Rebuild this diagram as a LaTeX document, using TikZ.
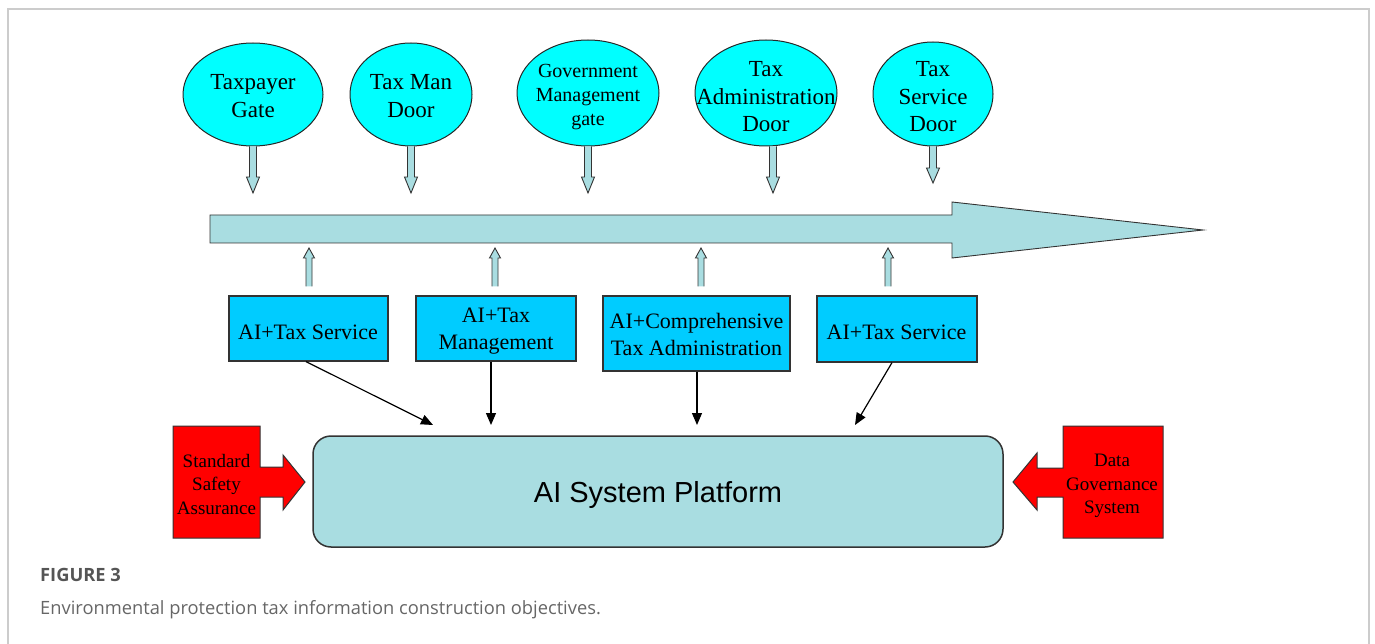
\documentclass[tikz,border=0pt]{standalone}
\usepackage{fontspec}
\setmainfont{Liberation Serif}
\setsansfont{Liberation Sans}
\newfontfamily\capfont{Open Sans}
\usetikzlibrary{shapes.geometric,arrows.meta,calc}

\definecolor{gatecyan}{HTML}{00FFFF}
\definecolor{boxblue}{HTML}{00CCFF}
\definecolor{paleblue}{HTML}{A9DDE1}
\definecolor{framegray}{HTML}{CCCCCC}
\definecolor{capdark}{HTML}{555555}
\definecolor{captext}{HTML}{666666}

% vertical hollow block arrow: #1 start, #2 tip, #3 shaft half width,
% #4 head half width, #5 signed offset of the head base from the tip
\newcommand\vblock[5]{%
  \fill[paleblue] let \p1=(#1), \p2=(#2) in
    (\x1-#3,\y1) -- (\x1-#3,{\y2+#5}) -- (\x1-#4,{\y2+#5}) -- (\x1,\y2)
    -- (\x1+#4,{\y2+#5}) -- (\x1+#3,{\y2+#5}) -- (\x1+#3,\y1) -- cycle;
  \draw[blkline] let \p1=(#1), \p2=(#2) in
    (\x1-#3,\y1) -- (\x1-#3,{\y2+#5}) -- (\x1-#4,{\y2+#5}) -- (\x1,\y2)
    -- (\x1+#4,{\y2+#5}) -- (\x1+#3,{\y2+#5}) -- (\x1+#3,\y1);}

\begin{document}
\begin{tikzpicture}[x=1pt,y=-1pt,
  gate/.style={ellipse, draw=black!85, line width=1pt, fill=gatecyan,
    inner sep=0pt},
  gatetext/.style={inner sep=0pt, align=center, font=\fontsize{23}{27.5}\selectfont},
  aibox/.style={rectangle, draw=black!80, line width=1.2pt, fill=boxblue,
    inner sep=0pt},
  boxtext/.style={inner sep=0pt, align=center, font=\fontsize{22}{27.5}\selectfont},
  blkline/.style={draw=black!80, line width=0.9pt, line join=miter},
  link/.style={draw=black, line width=1.2pt,
    -{Triangle[length=12pt,width=10pt]}},
  redshape/.style={draw=black!80, line width=1pt, fill=red, line join=miter},
  redtext/.style={inner sep=0pt, align=center, font=\fontsize{19}{23.5}\selectfont},
]
\useasboundingbox (0,0) rectangle (1375,644);

% outer frame
\draw[framegray, line width=1.5pt] (8,644) -- (8,9) -- (1369,9) -- (1369,644);

% portal ellipses
\node[gate, minimum width=140pt, minimum height=103pt] (g1) at (253,94.5) {};
\node[gate, minimum width=122pt, minimum height=103pt] (g2) at (411,94.5) {};
\node[gate, minimum width=142pt, minimum height=106pt] (g3) at (588,93) {};
\node[gate, minimum width=142pt, minimum height=106pt] (g4) at (766,93) {};
\node[gate, minimum width=120pt, minimum height=104pt] (g5) at (933,94) {};

\node[gatetext] (g1t) at ($(g1)+(0,1.5)$) {Taxpayer\\Gate};
\node[gatetext] (g2t) at ($(g2)+(0,1.5)$) {Tax Man\\Door};
\node[gatetext, font=\fontsize{20}{24}\selectfont] (g3t) at ($(g3)+(0,4)$) {Government\\Management\\gate};
\node[gatetext] (g4t) at ($(g4)+(0,4)$) {Tax\\Administration\\Door};
\node[gatetext] (g5t) at ($(g5)+(0,3)$) {Tax\\Service\\Door};

% tips of the downward arrows
\coordinate (t1) at (253,193);
\coordinate (t2) at (411,193);
\coordinate (t3) at (588,193);
\coordinate (t4) at (773,193);
\coordinate (t5) at (933,183);

\vblock{t1 |- g1.south}{t1}{3.5pt}{6.5pt}{16pt}
\vblock{t2 |- g2.south}{t2}{3.5pt}{6.5pt}{16pt}
\vblock{t3 |- g3.south}{t3}{3.5pt}{6.5pt}{16pt}
\vblock{t4 |- g4.south}{t4}{3.5pt}{6.5pt}{16pt}
\vblock{t5 |- g5.south}{t5}{3.5pt}{6.5pt}{15pt}

% main flow arrow
\draw[blkline, fill=paleblue] (210,215) -- (952,215) -- (952,202) -- (1203,230)
  -- (952,258) -- (952,243) -- (210,243) -- cycle;

% AI application boxes
\node[aibox, minimum width=159pt, minimum height=65pt] (b1) at (308.5,328.5) {};
\node[aibox, minimum width=160pt, minimum height=65pt] (b2) at (496,328.5) {};
\node[aibox, minimum width=187pt, minimum height=75pt] (b3) at (696.5,333.5) {};
\node[aibox, minimum width=160pt, minimum height=66pt] (b4) at (897,329) {};

\node[boxtext] (b1t) at ($(b1)+(-0.5,3.5)$) {AI+Tax Service};
\node[boxtext] (b2t) at ($(b2)+(0,2.5)$) {AI+Tax\\Management};
\node[boxtext] (b3t) at ($(b3)+(0,1)$) {AI+Comprehensive\\Tax Administration};
\node[boxtext] (b4t) at ($(b4)+(-0.5,3)$) {AI+Tax Service};

% tips of the upward arrows
\coordinate (u1) at (309,248);
\coordinate (u2) at (495,248);
\coordinate (u3) at (701,248);
\coordinate (u4) at (888,248);

\vblock{$(u1 |- b1.north)+(0,-9)$}{u1}{3pt}{5.5pt}{-10pt}
\vblock{$(u2 |- b2.north)+(0,-9)$}{u2}{3pt}{5.5pt}{-10pt}
\vblock{$(u3 |- b3.north)+(0,-9)$}{u3}{3pt}{5.5pt}{-10pt}
\vblock{$(u4 |- b4.north)+(0,-9)$}{u4}{3pt}{5.5pt}{-10pt}

% platform
\node[draw=black!80, line width=1.5pt, fill=paleblue, rounded corners=18pt,
  minimum width=690pt, minimum height=111pt] (plat) at (658,491.5) {};
\node[inner sep=0pt, font=\sffamily\fontsize{29}{34}\selectfont] (platt)
  at ($(plat)+(0,3)$) {AI System Platform};

% arrows into the platform
\coordinate (p1) at (433,425);
\coordinate (p2) at (491,425);
\coordinate (p3) at (697,425);
\coordinate (p4) at (855,425);
\draw[link] ([xshift=-2.5pt]b1.south) -- (p1);
\draw[link] (p2 |- b2.south) -- (p2);
\draw[link] (p3 |- b3.south) -- (p3);
\draw[link] ([xshift=-5pt]b4.south) -- (p4);

% side supports
\draw[redshape] (173,426) -- (260,426) -- (260,467) -- (283,467) -- (283,455)
  -- (305,482) -- (283,510) -- (283,497) -- (260,497) -- (260,538) -- (173,538) -- cycle;
\node[redtext] (ssa) at (216.5,484) {Standard\\Safety\\Assurance};

\draw[redshape] (1163,426) -- (1063,426) -- (1063,468) -- (1037,468) -- (1037,453)
  -- (1013,482) -- (1037,510) -- (1037,497) -- (1063,497) -- (1063,538) -- (1163,538) -- cycle;
\node[redtext] (dgs) at (1112,486) {Data\\Governance\\System};

% caption
\node[anchor=west, inner sep=0pt, text=capdark,
  font=\capfont\bfseries\fontsize{18.3}{22}\selectfont] (fig) at (40,575) {FIGURE 3};
\node[anchor=west, inner sep=0pt, text=captext,
  font=\capfont\fontsize{18.3}{22}\selectfont] (cap) at (40,610)
  {Environmental protection tax information construction objectives.};
\end{tikzpicture}
\end{document}
